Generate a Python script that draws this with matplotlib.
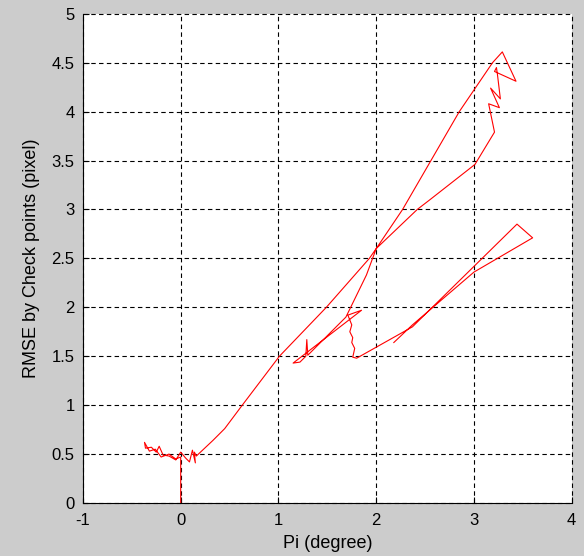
#RMSE随Pi变化的轨迹图(MATLAB风格)

import numpy as np
import matplotlib
matplotlib.use("Agg")
import matplotlib.pyplot as plt

#数据: 轨迹点(按顺序连线)
pi_deg = [0.0, 0.0,
          -0.05, -0.12, -0.20, -0.26, -0.32, -0.37, -0.36, -0.30, -0.25, -0.22, -0.18, -0.12, -0.05,
          0.00, 0.05, 0.09, 0.12, 0.15, 0.14, 0.16,
          0.33, 0.45, 0.63, 1.01, 1.49, 1.93, 2.00, 2.27, 2.56, 2.85, 3.19, 3.29,
          3.43, 3.21, 3.23, 3.24, 3.27, 3.17, 3.26, 3.15, 3.21, 3.01, 2.55, 2.42, 2.00,
          1.90, 1.69,
          1.30, 1.29, 1.28, 1.22, 1.15, 1.85, 1.71,
          1.75, 1.73, 1.76, 1.75, 1.78, 1.76, 1.80,
          2.37, 3.44, 3.60, 3.00, 2.37, 2.18]
rmse = [0.0, 0.47,
        0.45, 0.50, 0.47, 0.55, 0.53, 0.62, 0.56, 0.57, 0.52, 0.58, 0.49, 0.48, 0.44,
        0.52, 0.46, 0.42, 0.54, 0.41, 0.52, 0.48,
        0.64, 0.76, 1.00, 1.50, 2.00, 2.50, 2.60, 3.00, 3.50, 4.00, 4.50, 4.61,
        4.31, 4.41, 4.45, 4.38, 4.13, 4.24, 4.04, 4.08, 3.79, 3.46, 3.10, 3.00, 2.60,
        2.33, 1.90,
        1.51, 1.67, 1.50, 1.44, 1.43, 1.97, 1.92,
        1.82, 1.75, 1.69, 1.64, 1.58, 1.49, 1.48,
        1.80, 2.85, 2.71, 2.36, 1.82, 1.64]

x_ticks = [-1, 0, 1, 2, 3, 4]
y_ticks = [0, 0.5, 1, 1.5, 2, 2.5, 3, 3.5, 4, 4.5, 5]
y_tick_labels = ["0", "0.5", "1", "1.5", "2", "2.5", "3", "3.5", "4", "4.5", "5"]

plt.rcParams['font.family'] = ['Liberation Sans', 'DejaVu Sans']

fig = plt.figure(figsize=(5.84, 5.56), dpi=100, facecolor='#cccccc')
ax = fig.add_axes([0.142, 0.0953, 0.837, 0.88])
ax.set_facecolor('white')

ax.plot(pi_deg, rmse, color='#ff0000', lw=0.8, zorder=5)

ax.set_xlim(-1, 4)
ax.set_ylim(0, 5)
ax.set_xticks(x_ticks)
ax.set_xticklabels([str(v) for v in x_ticks])
ax.set_yticks(y_ticks)
ax.set_yticklabels(y_tick_labels)

#网格: 黑色虚线
ax.set_axisbelow(True)
ax.grid(True, color='black', linestyle=(0, (4, 3)), lw=0.8, zorder=1)
for gl in ax.get_xgridlines() + ax.get_ygridlines():
    gl.set_clip_on(False)

#只保留左边和下边的实线
ax.spines['top'].set_visible(False)
ax.spines['right'].set_visible(False)
ax.spines['left'].set_linewidth(0.8)
ax.spines['bottom'].set_linewidth(0.8)
ax.tick_params(direction='in', length=4, width=0.8, labelsize=12)
ax.tick_params(axis='x', pad=7)
ax.tick_params(axis='y', pad=6)

ax.set_xlabel('Pi (degree)', fontsize=13, labelpad=5)
ax.set_ylabel('RMSE by Check points (pixel)', fontsize=13, labelpad=8)

fig.savefig('out.png', dpi=100, facecolor=fig.get_facecolor())
